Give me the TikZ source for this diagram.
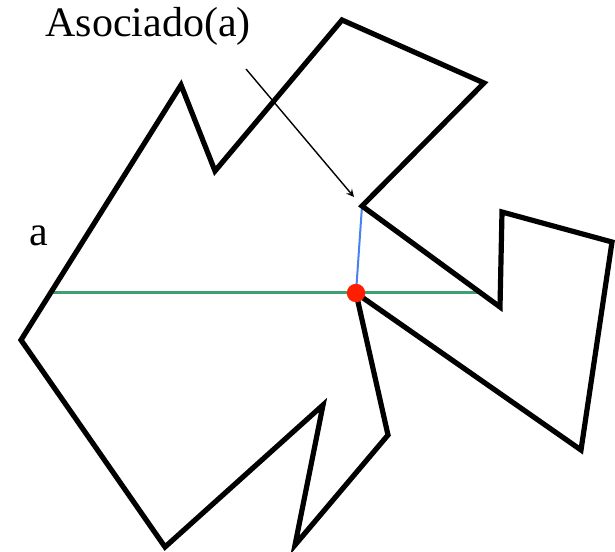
\documentclass[tikz,border=0pt]{standalone}
\usepackage{fontspec}
\setmainfont{Liberation Serif}
\definecolor{segverde}{RGB}{62,160,112}
\definecolor{segazul}{RGB}{70,130,240}
\definecolor{puntorojo}{RGB}{255,30,0}
\begin{document}
\begin{tikzpicture}[x=0.5pt,y=-0.5pt]
  \useasboundingbox (0,0) rectangle (615,551);
  % Vertices of the polygon
  \foreach \n/\x/\y in {1/21/340,2/181/85,3/215/171,4/342/20,5/484/83,6/362/206,7/500/307,8/502/212,9/612/242,10/581/450,11/356/293,12/388/435,13/295/545,14/323/405,15/165/547}
    \coordinate (v\n) at (\x,\y);
  \coordinate (ga) at (53,292);
  \coordinate (gb) at (483,292);
  \coordinate (flA) at (246,69);
  \coordinate (flB) at (354,197);
  % Segments
  \draw[segverde, line width=1.5pt] (ga) -- (gb);
  \draw[segazul, line width=1pt] (v6) -- (v11);
  % Polygon
  \draw[line width=2.6pt, line join=miter] (v1) -- (v2) -- (v3) -- (v4) -- (v5) -- (v6) -- (v7) -- (v8) -- (v9) -- (v10) -- (v11) -- (v12) -- (v13) -- (v14) -- (v15) -- cycle;
  \fill[puntorojo] (v11) circle (4.6pt);
  % Labels
  \node[anchor=base west, inner sep=0pt, font=\fontsize{21}{25}\selectfont] (asoc) at (45,37) {Asociado(a)};
  \node[anchor=base west, inner sep=0pt, font=\fontsize{21}{25}\selectfont] (la) at (29,245) {a};
  \draw[-stealth, line width=0.7pt] (flA) -- (flB);
\end{tikzpicture}
\end{document}
